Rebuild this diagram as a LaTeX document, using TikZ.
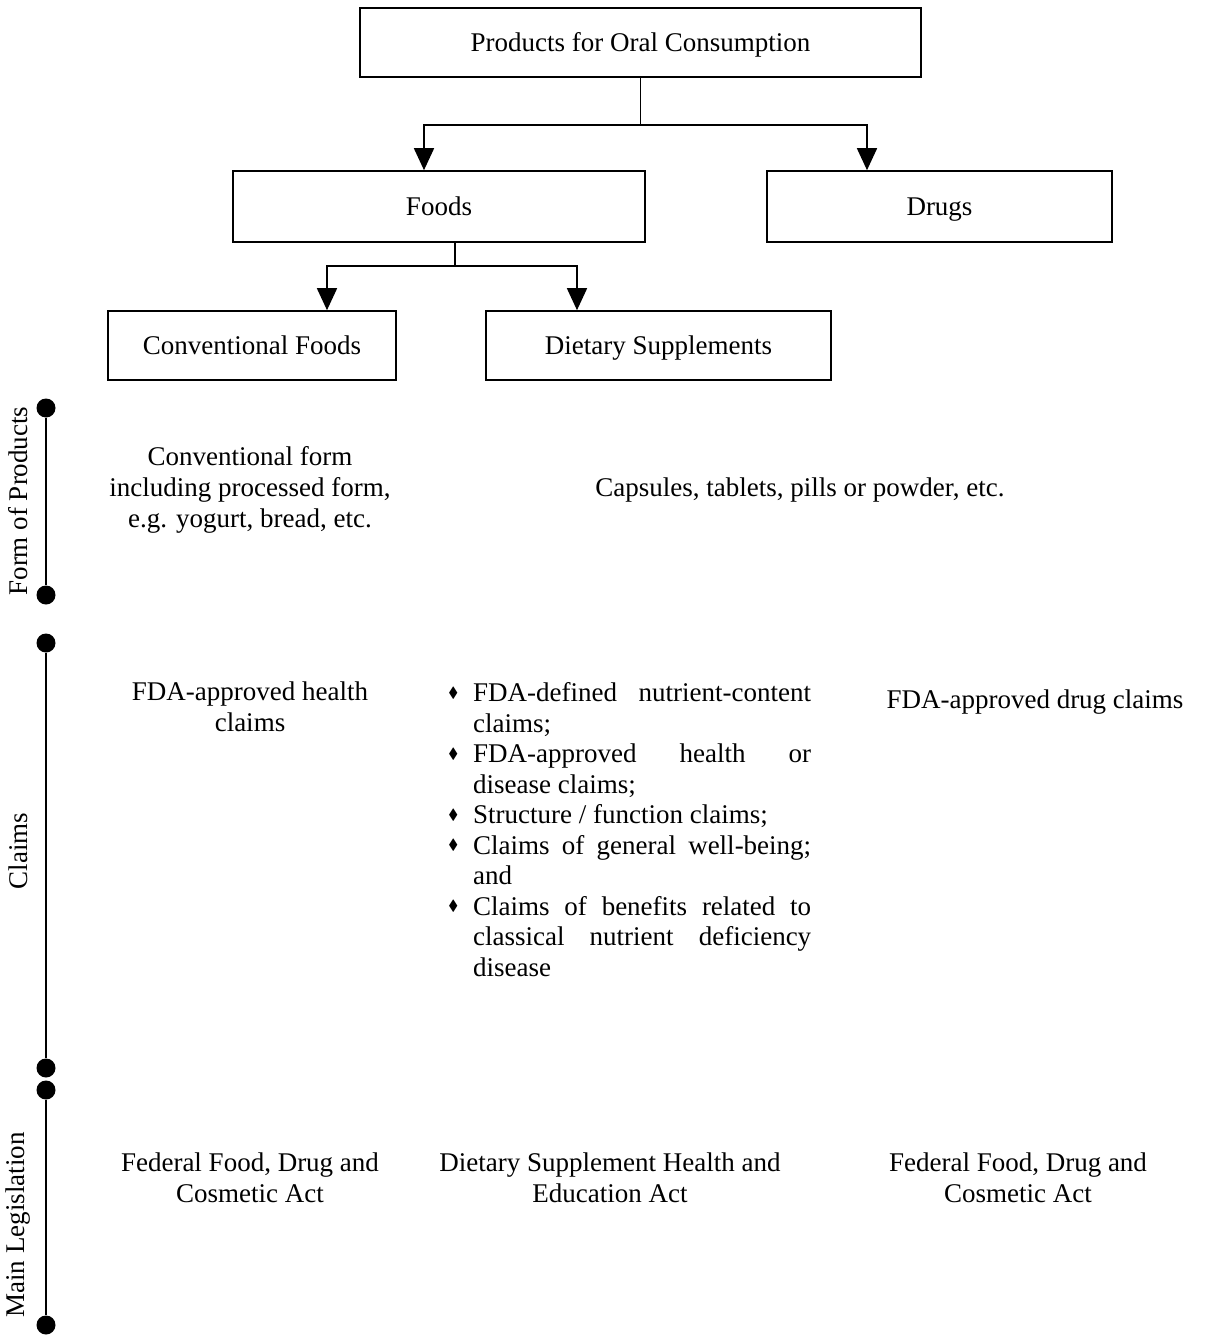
\documentclass[tikz,border=0pt]{standalone}
\usepackage{fontspec}
\setmainfont{Liberation Serif}
\usepackage{amssymb}
\usetikzlibrary{arrows.meta}

\tikzset{
   caja/.style={draw,line width=1.6pt,inner sep=0pt,text height=18.5pt,text depth=0pt},
   flecha/.style={line width=1.6pt,-{Triangle[width=20pt,length=22pt]}},
   linea/.style={line width=1.6pt},
   texto/.style={align=center,inner sep=0pt},
   eje/.style={line width=2pt},
   punto/.style={circle,fill,inner sep=0pt,minimum size=19pt},
   rotulo/.style={rotate=90,inner sep=0pt}
}
\newcommand{\vineta}{\raisebox{.35ex}{\scalebox{.55}{$\blacklozenge$}}}

\begin{document}
\begin{tikzpicture}[x=1pt,y=-1pt,font=\fontsize{27}{31}\selectfont]
   \useasboundingbox (0,0) rectangle (1210,1335);
   %cajas
   \node[caja,minimum width=561,minimum height=69] (prod) at (640.5,42.5) {Products for Oral Consumption};
   \node[caja,minimum width=412,minimum height=71] (foods) at (439,206.5) {Foods};
   \node[caja,minimum width=345,minimum height=71] (drugs) at (939.5,206.5) {Drugs};
   \node[caja,minimum width=288,minimum height=69] (conv) at (252,345.5) {Conventional Foods};
   \node[caja,minimum width=345,minimum height=69] (diet) at (658.5,345.5) {Dietary Supplements};
   %flechas
   \draw[linea] (prod.south) -- ++(0,47) coordinate (j1);
   \draw[flecha] (j1) -| ([xshift=-15]foods.north);
   \draw[flecha] (j1) -| ([xshift=-72.5]drugs.north);
   \draw[linea] ([xshift=16]foods.south) -- ++(0,23) coordinate (j2);
   \draw[flecha] (j2) -| ([xshift=75]conv.north);
   \draw[flecha] (j2) -| ([xshift=-81.5]diet.north);
   %ejes
   \node[punto] (f1) at (46,408) {};
   \node[punto] (f2) at (46,595) {};
   \draw[eje] (f1) -- (f2);
   \node[rotulo] (lform) at (18,501) {Form of Products};
   \node[punto] (c1) at (46,643) {};
   \node[punto] (c2) at (46,1068) {};
   \draw[eje] (c1) -- (c2);
   \node[rotulo] (lclaims) at (18,851) {Claims};
   \node[punto] (m1) at (46,1090) {};
   \node[punto] (m2) at (46,1325) {};
   \draw[eje] (m1) -- (m2);
   \node[rotulo] (lleg) at (18,1225) {Main Legislation};
   %forma
   \node[texto] (fconv) at (250,490) {Conventional form\\including processed form,\\e.g. yogurt, bread, etc.};
   \node[texto] (fdiet) at (800,490) {Capsules, tablets, pills or powder, etc.};
   %declaraciones
   \node[texto] (cconv) at (250,707) {FDA-approved health\\claims};
   \node[inner sep=0pt,text width=365,align=justify,anchor=north west] (cdiet) at (446,671) {%
      \fontsize{27}{30.5}\selectfont
      \hyphenpenalty=10000 \exhyphenpenalty=10000
      \begin{list}{\vineta}{\leftmargin=27pt \labelwidth=12pt \labelsep=15pt
         \itemsep=0pt \parsep=0pt \topsep=0pt \partopsep=0pt}
      \item FDA-defined nutrient-content claims;
      \item FDA-approved health or disease claims;
      \item Structure / function claims;
      \item Claims of general well-being; and
      \item Claims of benefits related to classical nutrient deficiency disease
      \end{list}};
   \node[texto] (cdrug) at (1035,702) {FDA-approved drug claims};
   %leyes
   \node[texto] (lconv) at (250,1178) {Federal Food, Drug and\\Cosmetic Act};
   \node[texto] (ldiet) at (610,1178) {Dietary Supplement Health and\\Education Act};
   \node[texto] (ldrug) at (1018,1178) {Federal Food, Drug and\\Cosmetic Act};
\end{tikzpicture}
\end{document}
